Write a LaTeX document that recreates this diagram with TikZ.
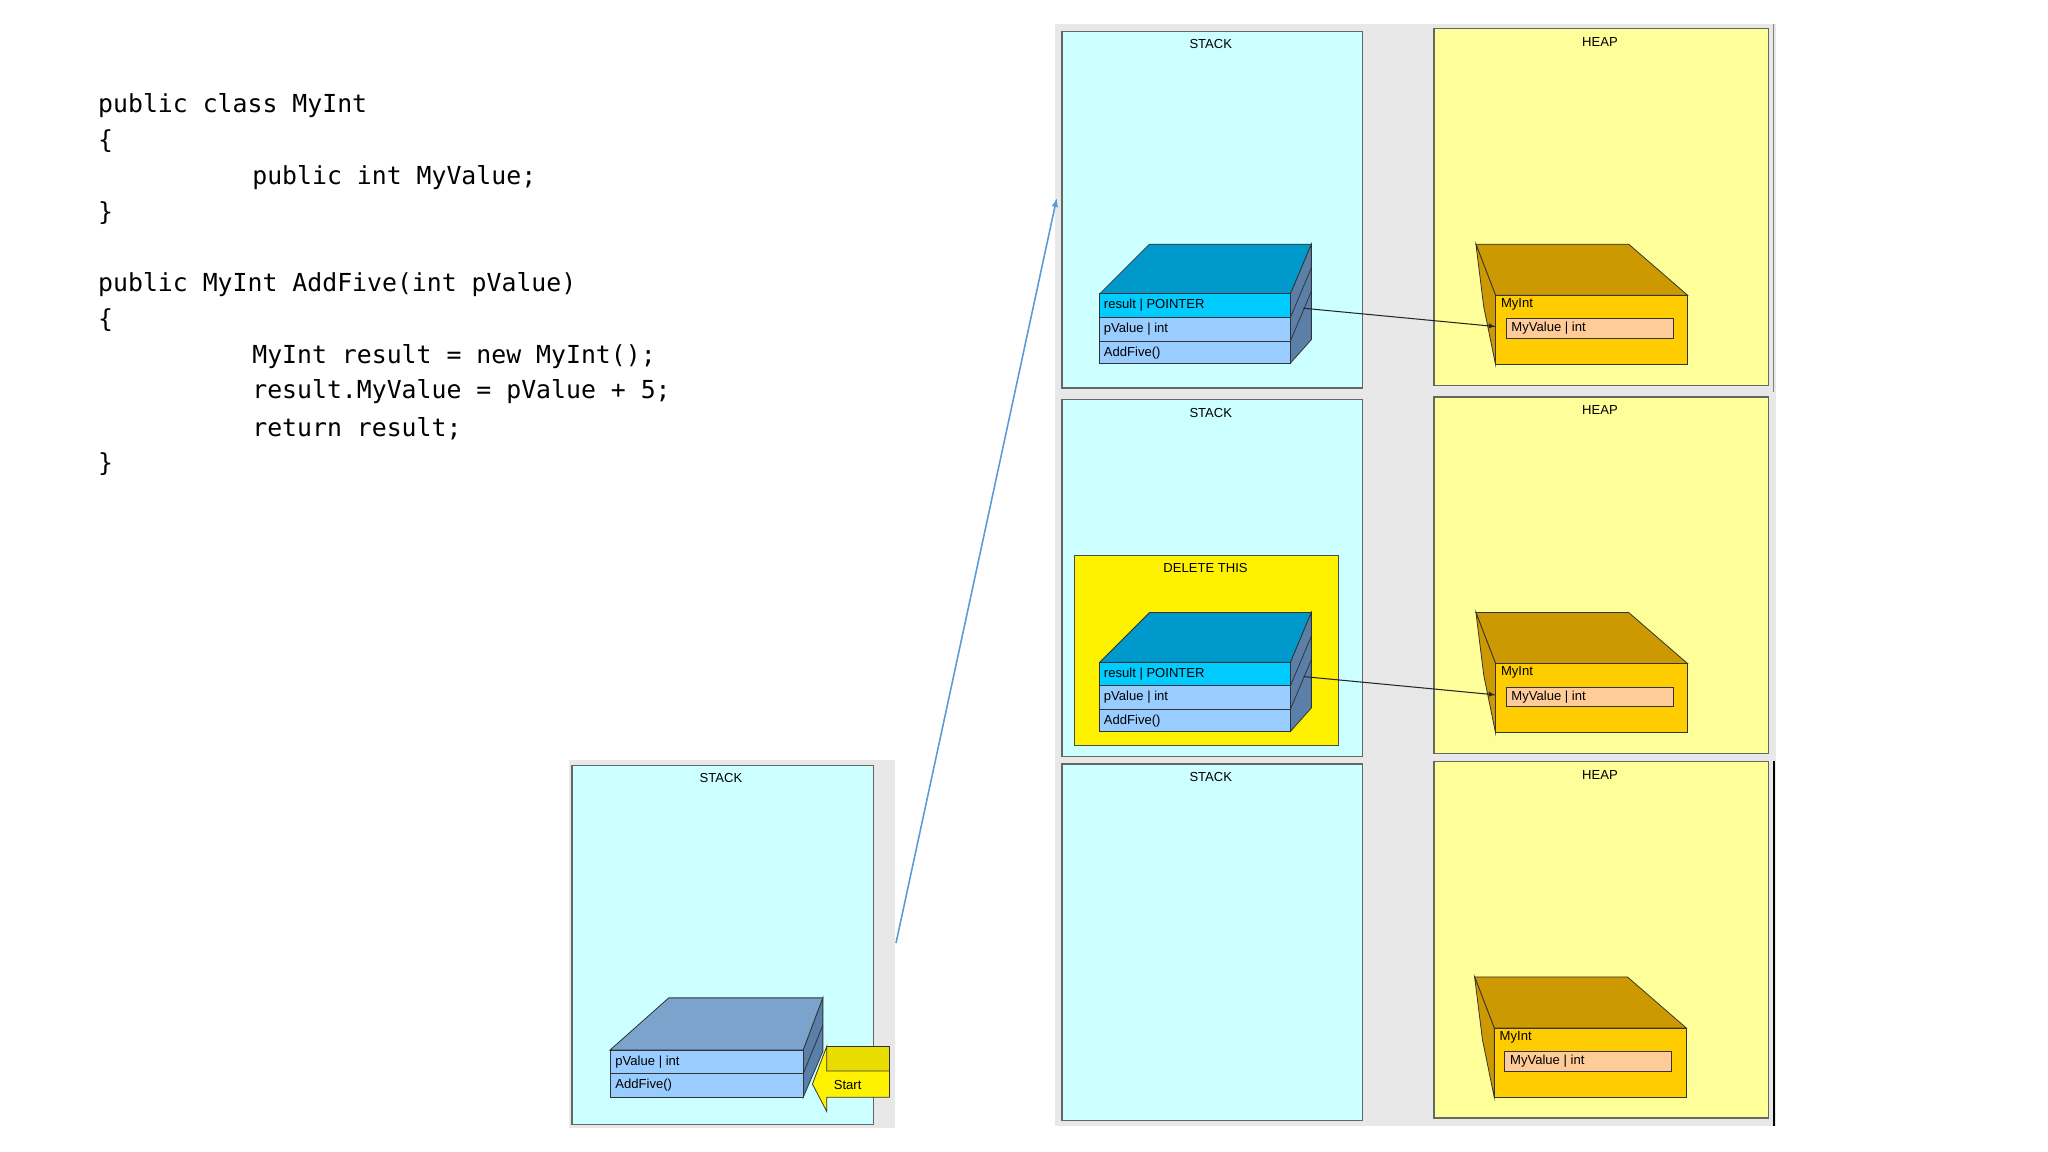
\documentclass[tikz,border=0pt]{standalone}
\usepackage{fontspec}
\setmainfont{Liberation Sans}
\newfontfamily\codefont{DejaVu Sans Mono}
\begin{document}
\begin{tikzpicture}[x=1pt,y=-1pt,
  lbl/.style={font=\fontsize{10}{12}\selectfont,inner sep=0pt},
  code/.style={font=\codefont\fontsize{19}{22}\selectfont,anchor=west,inner sep=0pt},
  stackbox/.style={fill=stackc,draw=gray!80!black,line width=1pt},
  heapbox/.style={fill=heapc,draw=gray!80!black,line width=1pt},
  edge/.style={draw=black!80,line width=0.6pt}]
\definecolor{stackc}{HTML}{CCFFFF}
\definecolor{heapc}{HTML}{FFFF99}
\definecolor{topc}{HTML}{0099CC}
\definecolor{rowa}{HTML}{00CCFF}
\definecolor{rowb}{HTML}{99CCFF}
\definecolor{sidec}{HTML}{5A7FA8}
\definecolor{hfront}{HTML}{FFCC00}
\definecolor{htop}{HTML}{CC9900}
\definecolor{hin}{HTML}{FFCC99}
\definecolor{btop}{HTML}{7BA3CC}
\definecolor{bluel}{HTML}{5B9BD5}
\useasboundingbox (0,0) rectangle (1568,882);
\fill[white] (0,0) rectangle (1568,882);
% code
\node[code] (c1) at (75,81) {public class MyInt};
\node[code] (c2) at (75,108) {\{};
\node[code] (c3) at (193,136) {public int MyValue;};
\node[code] (c4) at (75,163) {\}};
\node[code] (c5) at (75,218) {public MyInt AddFive(int pValue)};
\node[code] (c6) at (75,245) {\{};
\node[code] (c7) at (193,273) {MyInt result = new MyInt();};
\node[code] (c8) at (193,300) {result.MyValue = pValue + 5;};
\node[code] (c9) at (193,328) {return result;};
\node[code] (c10) at (75,355) {\}};
% gray panels
\fill[black!9] (808,18) rectangle (1360,862);
\fill[black!9] (436,582) rectangle (685,864);
\draw[black,line width=1.5pt] (1358,583) -- (1358,862);
\draw[gray,line width=1pt] (1358,18) -- (1358,300);
% stacks and heaps
\foreach \y/\h [count=\i] in {24/22,306/304,585/583}{
  \draw[stackbox] (813,\y) rectangle (1043,\y+273);
  \node[lbl] (st\i) at (927,\y+10) {STACK};
  \draw[heapbox] (1098,\h) rectangle (1354,\h+273);
  \node[lbl] (hp\i) at (1225,\h+10) {HEAP};
}
\draw[fill=yellow,draw=gray!60!black,line width=0.8pt] (823,425) rectangle (1025,571);
\node[lbl] (del) at (923,435) {DELETE THIS};
% stack blocks
\foreach \dy [count=\i] in {0,282}{
  \begin{scope}[yshift=-\dy]
  \draw[edge,fill=topc] (842,225) -- (880,187) -- (1004,187) -- (988,225) -- cycle;
  \draw[edge,fill=sidec] (988,225) -- (1004,187) -- (1004,260) -- (988,278) -- cycle;
  \draw[edge] (988,243) -- (1004,205) (988,261) -- (1004,223);
  \draw[edge,fill=rowa] (842,225) rectangle (988,243);
  \draw[edge,fill=rowb] (842,243) rectangle (988,261);
  \draw[edge,fill=rowb] (842,261) rectangle (988,278);
  \node[lbl,anchor=west] at (845,234) {result | POINTER};
  \node[lbl,anchor=west] at (845,252) {pValue | int};
  \node[lbl,anchor=west] at (845,270) {AddFive()};
  \coordinate (p\i) at (998,236);
  \end{scope}
}
% heap blocks
\foreach \dx/\dy [count=\i] in {0/0,0/282,-1/561}{
  \begin{scope}[xshift=\dx,yshift=-\dy]
  \draw[edge,fill=htop] (1130,187) -- (1247,187) -- (1292,226) -- (1145,226) -- cycle;
  \draw[edge,fill=htop] (1130,187) -- (1145,226) -- (1145,279) -- (1136,235) -- cycle;
  \draw[edge,fill=hfront] (1145,226) rectangle (1292,279);
  \node[lbl,anchor=west] at (1149,233) {MyInt};
  \draw[edge,fill=hin] (1153,244) rectangle (1281,259);
  \node[lbl,anchor=west] at (1157,251.5) {MyValue | int};
  \coordinate (h\i) at (1145,250);
  \end{scope}
}
\draw[-latex,black!85,line width=0.8pt] (p1) -- (h1);
\draw[-latex,black!85,line width=0.8pt] (p2) -- (h2);
% bottom-left stack
\draw[stackbox] (438,586) rectangle (669,861);
\node[lbl] (st0) at (552,596) {STACK};
\draw[edge,fill=btop] (467,804) -- (512,764) -- (630,764) -- (615,804) -- cycle;
\draw[edge,fill=sidec] (615,804) -- (630,764) -- (630,805) -- (615,840) -- cycle;
\draw[edge] (615,822) -- (630,785);
\draw[edge,fill=rowb] (467,804) rectangle (615,822);
\draw[edge,fill=rowb] (467,822) rectangle (615,840);
\node[lbl,anchor=west] at (471,813) {pValue | int};
\node[lbl,anchor=west] at (471,831) {AddFive()};
% start arrow
\fill[yellow!80!olive] (633,801) rectangle (681,820);
\fill[yellow!80!olive] (633,801) -- (633,795) -- (633,820) -- (628,820) -- cycle;
\draw[edge,fill=yellow] (681,820) -- (681,840) -- (633,840) -- (633,851) -- (622,830) -- (633,801) -- (633,820) -- cycle;
\draw[edge] (633,801) -- (681,801) -- (681,820);
\node[lbl] (start) at (649,831) {Start};
% blue connector
\coordinate (bs) at (686,722);
\coordinate (be) at (809,152);
\draw[-latex,bluel,line width=1.2pt] (bs) -- (be);
\end{tikzpicture}
\end{document}
